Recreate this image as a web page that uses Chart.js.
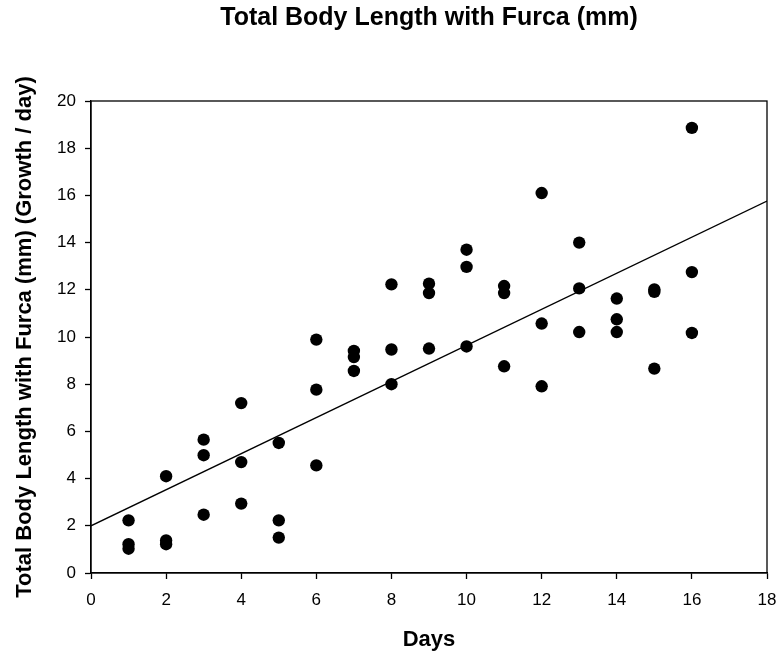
<!DOCTYPE html>
<html>
<head>
<meta charset="utf-8">
<title>Total Body Length with Furca (mm)</title>
<script src="https://cdn.jsdelivr.net/npm/chart.js@4/dist/chart.umd.min.js"></script>
<style>
  html, body { margin: 0; padding: 0; background: #fff; }
  #wrap { width: 779px; height: 655px; }
</style>
</head>
<body>
<div id="wrap"><canvas id="chart" width="779" height="655"></canvas></div>
<script>
// Sampling days and the three measured growth values per day (mm / day)
const days    = [1, 2, 3, 4, 5, 6, 7, 8, 9, 10, 11, 12, 13, 14, 15, 16];
const obsHigh = [2.23, 4.10, 5.65, 7.20, 5.51, 9.89, 9.41, 12.23, 12.26, 13.70, 12.16, 16.10, 14.00, 11.63, 12.02, 18.86];
const obsMid  = [1.22, 1.38, 4.99, 4.70, 2.23, 7.77, 9.15, 9.47, 11.86, 12.97, 11.86, 10.57, 12.06, 10.75, 11.91, 12.75];
const obsLow  = [1.03, 1.22, 2.47, 2.94, 1.50, 4.56, 8.56, 8.00, 9.51, 9.60, 8.76, 7.91, 10.21, 10.21, 8.66, 10.17];

// Linear fit drawn across the whole x range
const trendX = [0, 18];
const trendY = [2.0, 15.76];

// Axis ticks
const xTicks = [0, 2, 4, 6, 8, 10, 12, 14, 16, 18];
const yTicks = [0, 2, 4, 6, 8, 10, 12, 14, 16, 18, 20];

const points = [];
days.forEach((d, i) => {
  points.push({ x: d, y: obsHigh[i] });
  points.push({ x: d, y: obsMid[i] });
  points.push({ x: d, y: obsLow[i] });
});
const trend = trendX.map((x, i) => ({ x: x, y: trendY[i] }));

const FONT = "'Liberation Sans', Arial, Helvetica, sans-serif";

// Closes the plot frame on the top and right sides
const frame = {
  id: 'frame',
  afterDatasetsDraw(chart) {
    const a = chart.chartArea;
    const ctx = chart.ctx;
    ctx.save();
    ctx.strokeStyle = '#000';
    ctx.lineWidth = 1.3;
    ctx.strokeRect(a.left, a.top, a.right - a.left, a.bottom - a.top);
    ctx.restore();
  }
};

new Chart(document.getElementById('chart'), {
  type: 'scatter',
  data: {
    datasets: [
      {
        label: 'Observed',
        data: points,
        backgroundColor: '#000',
        borderColor: '#000',
        borderWidth: 0,
        pointRadius: 6.2,
        pointHoverRadius: 6.2,
        order: 1
      },
      {
        label: 'Linear fit',
        type: 'line',
        data: trend,
        borderColor: '#000',
        borderWidth: 1.3,
        pointRadius: 0,
        fill: false,
        order: 2
      }
    ]
  },
  options: {
    responsive: false,
    animation: false,
    devicePixelRatio: 1,
    layout: { padding: { left: 0, right: 12, top: 0, bottom: 0 } },
    plugins: {
      legend: { display: false },
      tooltip: { enabled: false },
      title: {
        display: true,
        text: 'Total Body Length with Furca (mm)',
        fullSize: false,
        color: '#000',
        font: { family: FONT, size: 25, weight: 'bold', lineHeight: 1.2 },
        padding: { top: 3, bottom: 68 }
      }
    },
    scales: {
      x: {
        type: 'linear',
        min: 0,
        max: 18,
        afterBuildTicks(scale) { scale.ticks = xTicks.map(v => ({ value: v })); },
        afterFit(scale) {
          scale.height = 82;
          scale.paddingLeft = 0;
          scale.paddingRight = 0;
        },
        border: { display: true, color: '#000', width: 1.3 },
        grid: { display: true, drawOnChartArea: false, drawTicks: true, tickLength: 6, tickColor: '#000', tickWidth: 1.3 },
        ticks: { color: '#000', font: { family: FONT, size: 17 }, padding: 11, maxRotation: 0, autoSkip: false },
        title: {
          display: true,
          text: 'Days',
          color: '#000',
          font: { family: FONT, size: 22, weight: 'bold', lineHeight: 1.2 },
          padding: { top: 0, bottom: 2 }
        }
      },
      y: {
        type: 'linear',
        min: 0,
        max: 20,
        afterBuildTicks(scale) { scale.ticks = yTicks.map(v => ({ value: v })); },
        afterFit(scale) {
          scale.width = 91;
          scale.paddingTop = 0;
          scale.paddingBottom = 0;
        },
        border: { display: true, color: '#000', width: 1.3 },
        grid: { display: true, drawOnChartArea: false, drawTicks: true, tickLength: 6, tickColor: '#000', tickWidth: 1.3 },
        ticks: { color: '#000', font: { family: FONT, size: 17 }, padding: 9, autoSkip: false },
        title: {
          display: true,
          text: 'Total Body Length with Furca (mm) (Growth / day)',
          color: '#000',
          font: { family: FONT, size: 22, weight: 'bold', lineHeight: 1.2 },
          padding: { top: 12, bottom: 0 }
        }
      }
    }
  },
  plugins: [frame]
});
</script>
</body>
</html>
